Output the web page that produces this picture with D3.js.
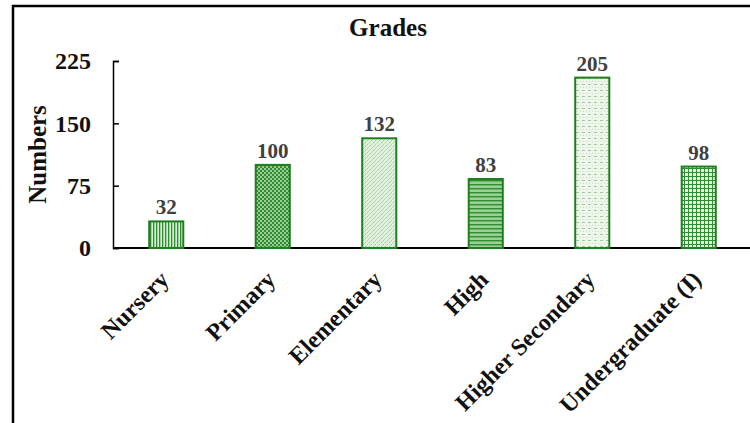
<!DOCTYPE html>
<html>
<head>
<meta charset="utf-8">
<script src="https://cdn.jsdelivr.net/npm/d3@7"></script>
<style>
  html, body { margin: 0; padding: 0; background: #fff; }
  svg { display: block; }
  text { font-family: "Liberation Serif", "Times New Roman", serif; font-weight: bold; }
</style>
</head>
<body>
<svg id="chart" width="750" height="423"></svg>
<script>
// Enrolment counts per grade level
const categories = ["Nursery", "Primary", "Elementary", "High", "Higher Secondary", "Undergraduate (I)"];
const values = [32, 100, 132, 83, 205, 98];
const yTicks = [0, 75, 150, 225];
const patternIds = ["p-vert", "p-check", "p-diag", "p-horiz", "p-dots", "p-grid"];

(function () {
  const svg = d3.select("#chart");
  const W = 750, H = 423;
  const mLeft = 113, mRight = 752, mTop = 61, mBottom = 248;

  // Outer frame
  svg.append("path")
    .attr("d", `M13,${H + 5} L13,6 L${W + 5},6`)
    .attr("fill", "none").attr("stroke", "#000").attr("stroke-width", 2.5);

  // Fill patterns
  const defs = svg.append("defs");
  const dark = "#2f8f2f", light = "#d6ecd4";

  function pat(id, w, h, draw) {
    const p = defs.append("pattern").attr("id", id)
      .attr("patternUnits", "userSpaceOnUse").attr("width", w).attr("height", h);
    p.append("rect").attr("class", "bg").attr("width", w).attr("height", h).attr("fill", light);
    draw(p);
  }
  pat("p-vert", 3, 3, p => {
    p.append("rect").attr("x", 0).attr("y", 0).attr("width", 1.3).attr("height", 3).attr("fill", dark);
  });
  pat("p-check", 4, 4, p => {
    p.select(".bg").attr("fill", dark);
    p.append("circle").attr("cx", 1).attr("cy", 1).attr("r", 0.9).attr("fill", "#cfe9cb");
    p.append("circle").attr("cx", 3).attr("cy", 3).attr("r", 0.9).attr("fill", "#cfe9cb");
  });
  pat("p-diag", 4, 4, p => {
    p.select(".bg").attr("fill", "#e0f0de");
    p.append("path").attr("d", "M-1,5 L5,-1 M-1,1 L1,-1 M3,5 L5,3")
      .attr("stroke", "#7fbd7a").attr("stroke-width", 0.8).attr("stroke-dasharray", "2,1");
  });
  pat("p-horiz", 4, 4, p => {
    p.select(".bg").attr("fill", "#9ccf98");
    p.append("rect").attr("x", 0).attr("y", 0).attr("width", 4).attr("height", 1.4).attr("fill", dark);
  });
  pat("p-dots", 6, 6, p => {
    p.select(".bg").attr("fill", "#eef6ec");
    p.append("rect").attr("x", 0).attr("y", 0).attr("width", 3).attr("height", 1).attr("fill", "#9fc99b");
    p.append("circle").attr("cx", 1.5).attr("cy", 3.5).attr("r", 0.5).attr("fill", "#b9d9b5");
    p.append("circle").attr("cx", 4.5).attr("cy", 3.5).attr("r", 0.5).attr("fill", "#b9d9b5");
  });
  pat("p-grid", 4, 4, p => {
    p.select(".bg").attr("fill", "#e4f2e2");
    p.append("path").attr("d", "M0,0.5 H4 M0.5,0 V4")
      .attr("stroke", dark).attr("stroke-width", 1);
  });

  // Scales
  const x = d3.scaleBand().domain(categories).range([mLeft, mRight]).paddingInner(0.68).paddingOuter(0.34);
  const y = d3.scaleLinear().domain([0, 225]).range([mBottom, mTop]);

  // Title
  svg.append("text").attr("x", 388).attr("y", 36).attr("text-anchor", "middle")
    .attr("font-size", 25).attr("fill", "#111").text("Grades");

  // Y axis with inward ticks
  const yAxis = svg.append("g").attr("transform", `translate(${mLeft},0)`)
    .call(d3.axisLeft(y).tickValues(yTicks).tickSizeInner(-6).tickSizeOuter(-6).tickPadding(22));
  yAxis.select(".domain").attr("stroke", "#000").attr("stroke-width", 1.5);
  yAxis.selectAll(".tick line").attr("stroke", "#000").attr("stroke-width", 1.5);
  yAxis.selectAll(".tick text").attr("font-size", 24).attr("font-family", "Liberation Serif, serif")
    .attr("font-weight", "bold").attr("fill", "#111");

  // Baseline
  svg.append("line").attr("x1", mLeft).attr("x2", W).attr("y1", y(0)).attr("y2", y(0))
    .attr("stroke", "#000").attr("stroke-width", 2);

  // Y label
  svg.append("text").attr("transform", `translate(46,${(mTop + mBottom) / 2}) rotate(-90)`)
    .attr("text-anchor", "middle").attr("font-size", 25).attr("fill", "#111").text("Numbers");

  // Bars
  svg.append("g").selectAll("rect").data(categories).join("rect")
    .attr("x", d => x(d))
    .attr("y", (d, i) => y(values[i]))
    .attr("width", x.bandwidth())
    .attr("height", (d, i) => y(0) - y(values[i]))
    .attr("fill", (d, i) => `url(#${patternIds[i]})`)
    .attr("stroke", "#1f7f1f").attr("stroke-width", 2);

  // Value labels
  svg.append("g").selectAll("text").data(categories).join("text")
    .attr("x", d => x(d) + x.bandwidth() / 2)
    .attr("y", (d, i) => y(values[i]) - 7)
    .attr("text-anchor", "middle").attr("font-size", 21).attr("fill", "#404040")
    .text((d, i) => values[i]);

  // Category labels, rotated
  svg.append("g").selectAll("text").data(categories).join("text")
    .attr("transform", d => `translate(${x(d) + x.bandwidth() / 2 + 4},${mBottom + 33}) rotate(-45)`)
    .attr("text-anchor", "end").attr("font-size", 24).attr("fill", "#111")
    .text(d => d);
})();
</script>
</body>
</html>
